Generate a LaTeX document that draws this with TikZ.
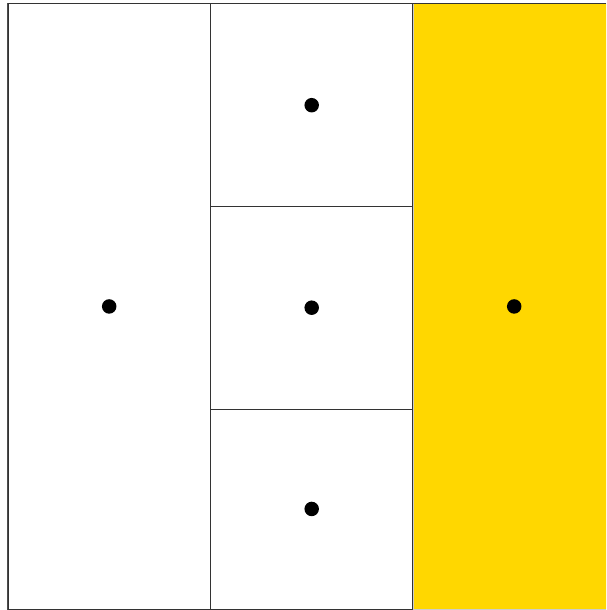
\documentclass[tikz,border=0pt]{standalone}
\usepackage{xcolor}
\usetikzlibrary{positioning}
\definecolor{gold}{HTML}{FFD700}
\tikzset{
	cell/.style={draw=black!80, line width=0.9pt, inner sep=0pt, anchor=north west, minimum width=202.5pt},
	dot/.style={circle, fill=black, minimum size=14.5pt, inner sep=0pt}
}
\begin{document}
\begin{tikzpicture}[x=1pt, y=-1pt]
	\useasboundingbox (0,0) rectangle (606,610);
	\clip (0,0) rectangle (606,610);
	% three columns, middle one split in three
	\node[cell, minimum height=605pt] (left) at (7.5,3.5) {};
	\node[cell, minimum height=202.5pt] (top) at (210,3.5) {};
	\node[cell, minimum height=202.5pt] (mid) at (210,206) {};
	\node[cell, minimum height=200pt] (bot) at (210,408.5) {};
	\node[cell, draw=black!20, fill=gold, minimum width=202.5pt, minimum height=605pt] (right) at (412.5,3.5) {};
	\draw[black!80, line width=0.9pt] (412.5,608.5) -- (412.5,3.5) -- (606,3.5);
	\draw[black!70, line width=1.8pt] (7.5,610) -- (7.5,3.5);
	% centres
	\foreach \c in {left, top, mid, bot, right}
		\node[dot] (\c dot) at (\c.center) {};
\end{tikzpicture}
\end{document}
